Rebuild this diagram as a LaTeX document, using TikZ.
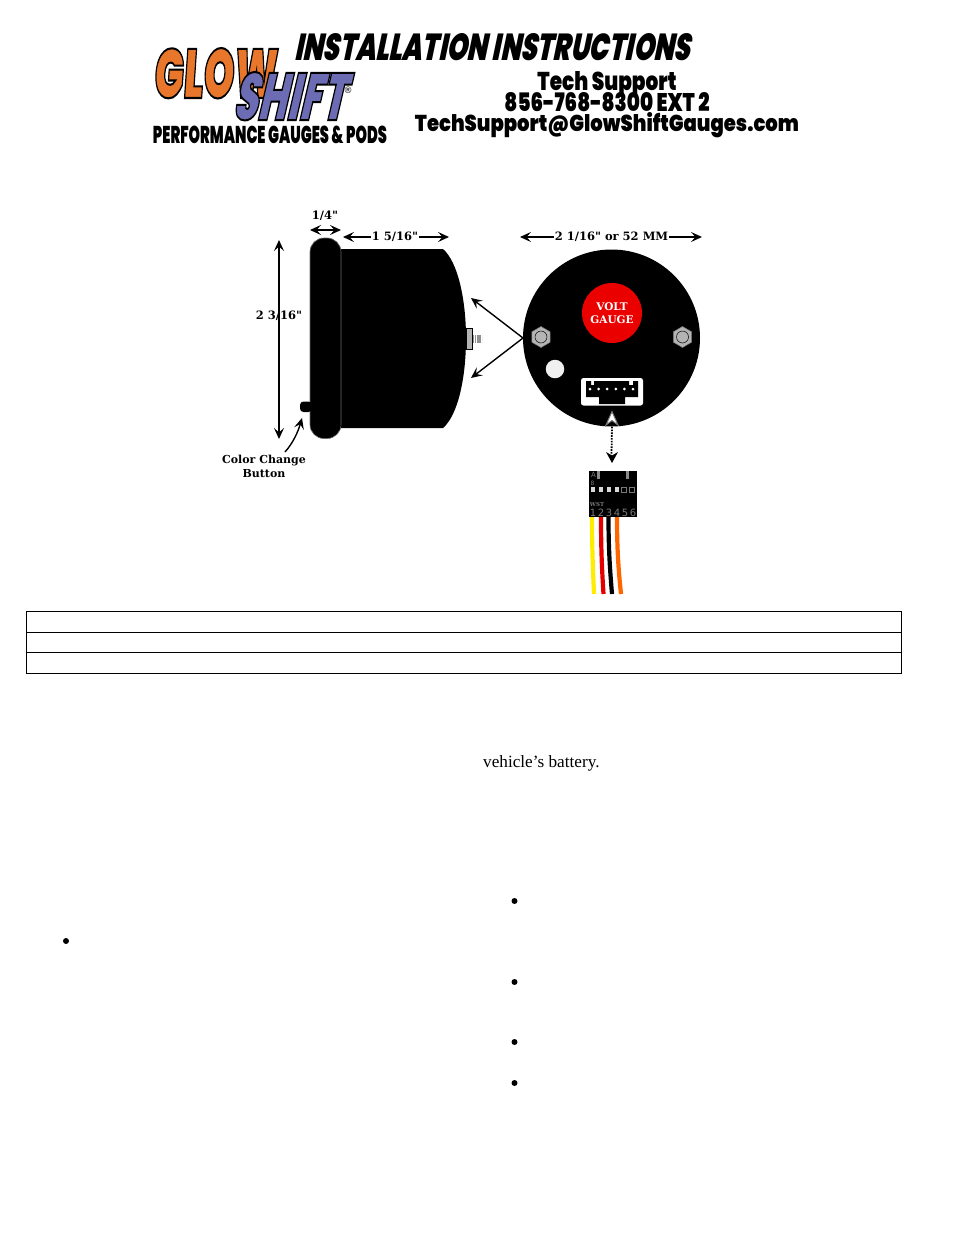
\documentclass[tikz,border=0pt]{standalone}
\usepackage{fontspec}
\usepackage{graphicx}
\usetikzlibrary{arrows.meta,shapes.geometric,calc}
\setmainfont{Liberation Serif}
\newfontfamily\headfont[FakeSlant=0.3]{Poppins Black}
\newfontfamily\condfont{Poppins Black}
\newfontfamily\logoglow[FakeSlant=0.12,FakeBold=3]{Poppins Black}
\newfontfamily\logoshift[FakeSlant=0.4,FakeBold=3]{Poppins Black}
\newfontfamily\dimfont{DejaVu Serif Bold}
\newfontfamily\platefont{DejaVu Sans}
\definecolor{glow}{HTML}{E9772B}
\definecolor{shift}{HTML}{6C6CB4}
\definecolor{bolt}{HTML}{B4B4B4}
\definecolor{plategray}{HTML}{7A7A7A}
\newcommand{\blackstroke}{\special{pdf:code 0 0 0 RG}}
\tikzset{
  x=1pt,y=-1pt,
  dimtip/.style={{Stealth[length=11pt,width=10pt,inset=4.5pt]}-{Stealth[length=11pt,width=10pt,inset=4.5pt]}},
  onetip/.style={-{Stealth[length=11pt,width=10pt,inset=4.5pt]}},
  dimline/.style={draw=black,line width=1.4pt},
  dimlabel/.style={font=\dimfont\fontsize{11.5}{13}\selectfont,inner sep=1pt,fill=white},
  free/.style={font=\dimfont\fontsize{11.5}{14.5}\selectfont,inner sep=0pt},
  platetext/.style={font=\dimfont\fontsize{10.5}{13}\selectfont,text=white,inner sep=0pt},
  headtext/.style={anchor=base,inner sep=0pt},
  logotext/.style={anchor=base west,inner sep=0pt},
  grid/.style={draw=black,line width=1pt},
  bullet/.style={circle,fill=black,minimum size=6pt,inner sep=0pt},
  hexbolt/.style={regular polygon,regular polygon sides=6,shape border rotate=30,minimum size=21pt,inner sep=0pt,fill=bolt,draw=black!55,line width=.5pt},
  boltcap/.style={circle,minimum size=12pt,inner sep=0pt,fill=bolt,draw=black,line width=.5pt},
  pinhole/.style={circle,fill=white,minimum size=3pt,inner sep=0pt},
  sqfull/.style={rectangle,fill=white!85!black,minimum size=4.5pt,inner sep=0pt},
  sqopen/.style={rectangle,draw=plategray,minimum size=5pt,inner sep=0pt,line width=.6pt},
  platenum/.style={font=\platefont\fontsize{10}{10}\selectfont,text=plategray,inner sep=0pt},
  wire/.style={line width=4.2pt},
}
\begin{document}
\begin{tikzpicture}
\useasboundingbox (0,0) rectangle (954,1235);
\fill[white] (0,0) rectangle (954,1235);
% header
\node[logotext] (title) at (294,60.5) {\resizebox{396pt}{27pt}{\headfont INSTALLATION INSTRUCTIONS}};
\node[headtext] (tech) at (607,90.5) {\resizebox{139pt}{19pt}{\condfont Tech Support}};
\node[headtext] (phone) at (607,111) {\resizebox{205pt}{19pt}{\condfont 856-768-8300 EXT 2}};
\node[headtext] (mail) at (607,131) {\resizebox{384pt}{19pt}{\condfont TechSupport@GlowShiftGauges.com}};
\node[headtext] (perf) at (270,143) {\resizebox{234pt}{17.5pt}{\condfont PERFORMANCE GAUGES \& PODS}};
\node[logotext] (glowtxt) at (153,98) {\resizebox{123pt}{50pt}{\color{glow}\blackstroke\logoglow GLOW}};
\node[logotext] (shifttxt) at (232,120) {\resizebox{112pt}{48pt}{\color{shift}\blackstroke\logoshift SHIFT}};
\node[inner sep=0pt,font=\platefont\fontsize{9}{9}\selectfont] (reg) at (348,90) {®};
% side view
\fill[black] (341,249) -- (443,249) .. controls (458,262) and (466,300) .. (466,338)
  .. controls (466,378) and (458,415) .. (443,428) -- (341,428) -- cycle;
\draw[fill=black,draw=black!60,line width=.6pt,rounded corners=14pt] (310,238) rectangle (341,438.5);
\draw[fill=bolt,draw=black,line width=1pt] (466,328) rectangle (472,349);
\draw[bolt!80!black,line width=8pt,dash pattern=on 1.2pt off .6pt] (473,339) -- (482,339);
\fill[black,rounded corners=3.5pt] (300,401.5) rectangle (312,412);
% dimensions, side view
\coordinate (qa) at (310,230); \coordinate (qb) at (341,230);
\draw[dimline,dimtip] (qa) -- (qb);
\node[free] (quarter) at (325,216) {1/4"};
\coordinate (la) at (343,237); \coordinate (lb) at (449,237);
\draw[dimline,dimtip] (la) -- (lb);
\node[dimlabel] (length) at (395,237) {1 5/16"};
\coordinate (ha) at (279,240); \coordinate (hb) at (279,439);
\draw[dimline,dimtip] (ha) -- (hb);
\node[free] (height) at (279,316) {2 3/16"};
\node[free,align=center,font=\dimfont\fontsize{11}{14.5}\selectfont] (colorbtn) at (264,466.5) {Color Change\\Button};
\coordinate (ca) at (285,452); \coordinate (cb) at (302,418);
\draw[dimline,onetip] (ca) .. controls (293,443) and (298,432) .. (cb);
% rear view
\node[circle,fill=black,minimum size=177pt,inner sep=0pt] (face) at (611.5,338) {};
\node[circle,fill=red!92!black,minimum size=60pt,inner sep=0pt] (dial) at (612,313) {};
\node[platetext] (volt) at (612,307) {VOLT};
\node[platetext] (gauge) at (612,320) {GAUGE};
\node[hexbolt] (boltl) at (541,337) {};
\node[boltcap] at (541,337) {};
\node[hexbolt] (boltr) at (682.5,337) {};
\node[boltcap] at (682.5,337) {};
\node[circle,fill=white!94!black,minimum size=18.5pt,inner sep=0pt] (btnhole) at (555,369) {};
% socket
\fill[white,rounded corners=2.5pt] (581,378) rectangle (643,405.5);
\fill[black] (586,381) -- (591,381) -- (591,385) -- (594,385) -- (594,381) -- (629,381) -- (629,385) -- (633,385) -- (633,381) -- (638,381)
  -- (638,397) -- (625,397) -- (625,404) -- (599,404) -- (599,397) -- (586,397) -- cycle;
\foreach \px in {590,598.6,607.2,615.8,624.4,633} \node[pinhole] at (\px,389) {};
% mounting arrows
\coordinate (ma) at (523,338); \coordinate (mb) at (471,298); \coordinate (mc) at (471,378);
\draw[dimline,onetip] (ma) -- (mb);
\draw[dimline,onetip] (ma) -- (mc);
% width dim
\coordinate (wa) at (520,237); \coordinate (wb) at (702,237);
\draw[dimline,dimtip] (wa) -- (wb);
\node[dimlabel] (width) at (611.5,237) {2 1/16" or 52 MM};
% plug
\node[rectangle,fill=black,minimum width=48pt,minimum height=46pt,inner sep=0pt] (plug) at (613,494) {};
\fill[black!45] (597,471) rectangle (600,479);
\fill[black!45] (626,471) rectangle (629,479);
\node[platenum,font=\platefont\fontsize{7}{7}\selectfont] (pa) at (593.5,475) {A};
\node[platenum,font=\platefont\fontsize{6}{6}\selectfont] (pb) at (592.5,483) {8};
\foreach \px in {593,601,609,617} \node[sqfull] at (\px,489.5) {};
\foreach \px in {624,632} \node[sqopen] at (\px,489.5) {};
\node[platenum,font=\dimfont\fontsize{5.5}{6}\selectfont] (wst) at (597,504) {WST};
\foreach \n/\px in {1/593,2/601,3/609,4/617,5/625,6/633} \node[platenum] at (\px,513) {\n};
% wires
\draw[wire,draw=yellow!95!orange] (592,517) .. controls (592,550) and (593,570) .. (594,594);
\draw[wire,draw=red!90!black] (601,517) .. controls (601,550) and (602,570) .. (603.5,594);
\draw[wire,draw=black] (608.5,517) .. controls (608.5,550) and (610,570) .. (612,594);
\draw[wire,draw=orange!80!red] (617,517) .. controls (617,550) and (618.5,570) .. (621,594);
% dotted link
\coordinate (da) at (612,424); \coordinate (db) at (611.5,455);
\draw[black,line width=1.8pt,dash pattern=on 1.6pt off 1.2pt] (da) -- (db);
\draw[draw=black!55,fill=white,line width=1pt,line join=miter] (612,411.5) -- (618,425) -- (612,420.5) -- (606,425) -- cycle;
\draw[black,line width=1.8pt,dash pattern=on 1.6pt off 1.2pt] (da) -- (612,428);
\fill[black] (612,463) -- (606,452) -- (612,455.5) -- (618,452) -- cycle;
% table
\node[grid,rectangle,minimum width=875pt,minimum height=62pt,inner sep=0pt] (tablebox) at (464,642.5) {};
\coordinate (r1l) at (26.5,632.5); \coordinate (r1r) at (901.5,632.5);
\coordinate (r2l) at (26.5,652.5); \coordinate (r2r) at (901.5,652.5);
\draw[grid] (r1l) -- (r1r);
\draw[grid] (r2l) -- (r2r);
% body text and bullets
\node[anchor=base west,inner sep=0pt,font=\fontsize{17.2}{20}\selectfont] (battery) at (483,767) {vehicle’s battery.};
\node[bullet] (b1) at (66,941) {};
\node[bullet] (b2) at (514.5,901) {};
\node[bullet] (b3) at (514.5,982) {};
\node[bullet] (b4) at (514.5,1042) {};
\node[bullet] (b5) at (514.5,1083) {};
\end{tikzpicture}
\end{document}
